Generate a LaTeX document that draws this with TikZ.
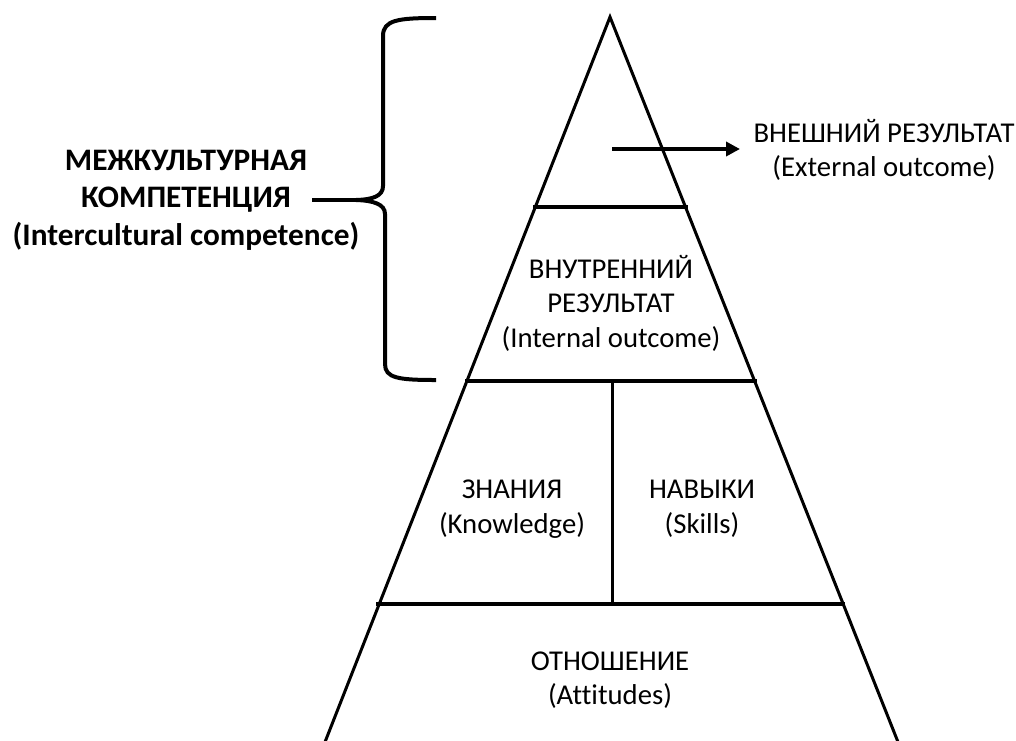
\documentclass[tikz,border=0pt]{standalone}
\usepackage{fontspec}
\setmainfont{Carlito}[Ligatures=NoCommon]
\usetikzlibrary{arrows.meta}
\begin{document}
\begin{tikzpicture}[x=1pt,y=-1pt,
  side/.style={line width=3pt,line join=miter},
  level/.style={line width=3.6pt},
  txt/.style={align=center,inner sep=0pt,font=\fontsize{28.7}{34.5}\selectfont},
  bold/.style={align=center,inner sep=0pt,font=\fontsize{31.3}{37.5}\selectfont\bfseries},
  brace/.style={line width=4pt,line cap=butt},
  outarrow/.style={line width=4pt,-{Triangle[length=14pt,width=14pt]}}]
\useasboundingbox (0,0) rectangle (1016,740);
\fill[white] (0,0) rectangle (1016,740);
% pyramid
\coordinate (apex) at (610,17);
\coordinate (bl) at (325,742);
\coordinate (br) at (898,742);
\draw[side] (bl) -- (apex) -- (br);
\coordinate (l1) at (533,207); \coordinate (r1) at (688,207);
\coordinate (l2) at (465,381); \coordinate (r2) at (757,381);
\coordinate (l3) at (376,604); \coordinate (r3) at (845,604);
\draw[level] (l1) -- (r1);
\draw[level] (l2) -- (r2);
\draw[level] (l3) -- (r3);
\coordinate (dtop) at (612,381); \coordinate (dbot) at (612,604);
\draw[side] (dtop) -- (dbot);
% arrow
\coordinate (astart) at (612,149);
\coordinate (aend) at (740,149);
\draw[outarrow] (astart) -- (aend);
% brace
\coordinate (btop) at (436,18);
\coordinate (bbot) at (436,380);
\coordinate (btip) at (312,200);
\draw[brace] (btop) .. controls (398,18) and (383,20) .. (383,36) -- (383,186)
  .. controls (383,196) and (373,199.5) .. (356,200)
  .. controls (373,200.5) and (385,204) .. (385,214) -- (385,364)
  .. controls (385,378) and (398,380) .. (bbot);
\draw[brace] (btip) -- (357,200);
% texts
\node[bold] (ic) at (186,200) {МЕЖКУЛЬТУРНАЯ\\КОМПЕТЕНЦИЯ\\(Intercultural competence)};
\node[txt] (ext) at (884,150) {ВНЕШНИЙ РЕЗУЛЬТАТ\\(External outcome)};
\node[txt] (int) at (611,303) {ВНУТРЕННИЙ\\РЕЗУЛЬТАТ\\(Internal outcome)};
\node[txt] (kn) at (512,509) {ЗНАНИЯ\\(Knowledge)};
\node[txt] (sk) at (702,509) {НАВЫКИ\\(Skills)};
\node[txt] (att) at (610,680) {ОТНОШЕНИЕ\\(Attitudes)};
\end{tikzpicture}
\end{document}
